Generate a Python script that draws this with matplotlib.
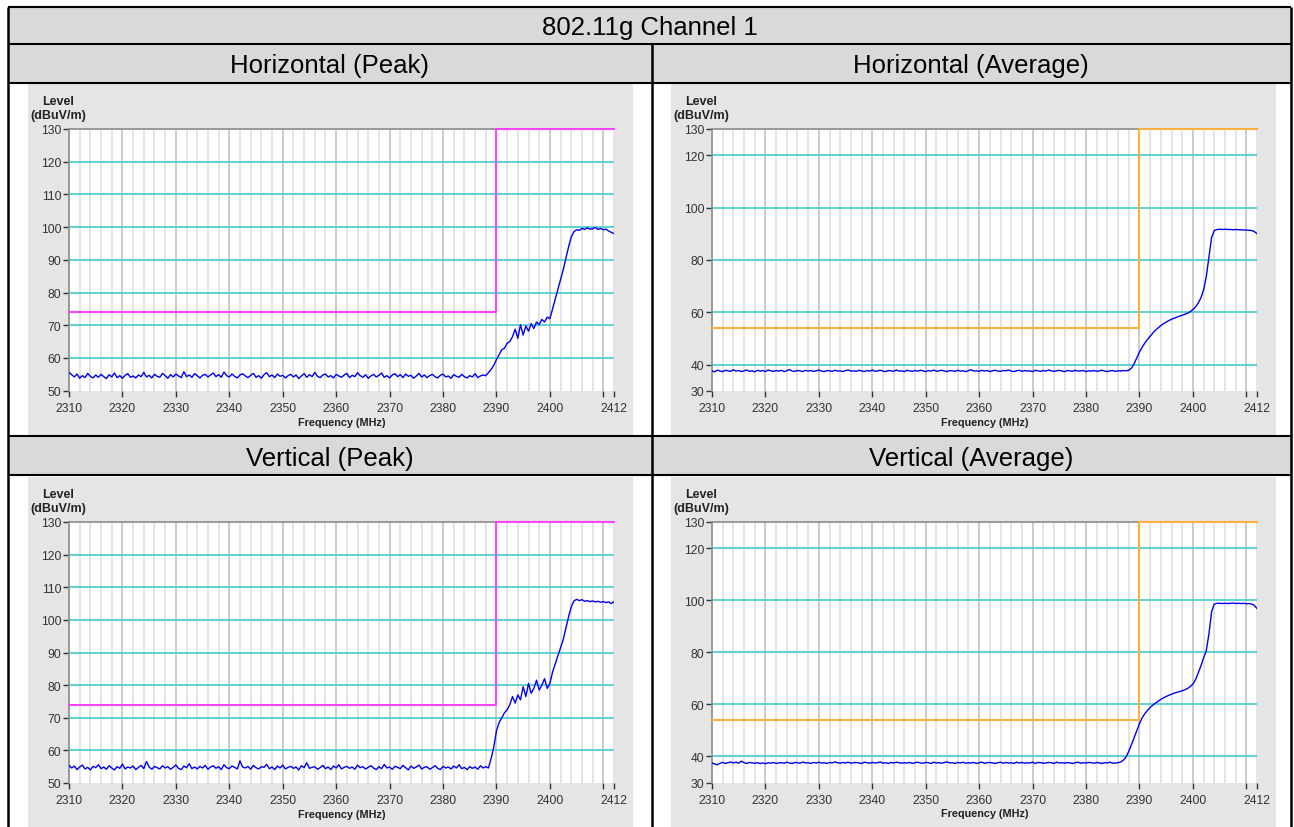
import matplotlib
matplotlib.use("Agg")
import matplotlib.pyplot as plt
import numpy as np
from matplotlib.patches import Rectangle

plt.rcParams['font.family'] = ['Liberation Sans', 'DejaVu Sans']

# Texte
table_title = "802.11g Channel 1"
panel_titles = ["Horizontal (Peak)", "Horizontal (Average)",
                "Vertical (Peak)", "Vertical (Average)"]

# Frequenzraster der Messkurven (MHz)
f_start, f_step = 2310.0, 0.5

# Horizontal Peak
hp_floor = [55.6, 54.9, 54.2, 55.1, 53.8, 54.6, 54.0, 55.3, 54.4, 53.9, 54.8, 54.1, 55.0,
            54.3, 53.7, 54.9, 54.2, 55.4, 54.0, 54.6, 53.8, 54.7, 55.2, 54.1, 54.5, 53.9,
            54.8, 54.3, 55.6, 54.2, 54.7, 53.9, 55.0, 54.4, 54.1, 55.3, 54.6, 53.8, 54.9,
            54.2, 55.1, 54.5, 54.0, 55.8, 54.3, 54.8, 54.1, 55.2, 54.6, 53.9, 54.7, 55.0,
            54.2, 54.8, 55.4, 54.3, 54.9, 54.1, 55.7, 54.6, 54.2, 55.1, 54.4, 53.9, 54.8,
            55.2, 54.5, 54.0, 54.7, 55.3, 54.1, 54.6, 53.8, 54.9, 55.5, 54.3, 54.8, 54.0,
            55.1, 54.4, 54.7, 53.9, 54.6, 55.0, 54.2, 54.8, 53.7, 54.5, 55.2, 54.1, 54.9,
            54.3, 55.6, 54.4, 54.0, 54.8, 55.1, 54.2, 54.6, 53.9, 55.0, 54.5, 54.1, 54.8,
            55.3, 54.0, 54.7, 54.3, 55.5, 54.6, 54.1, 54.9, 53.8, 54.5, 55.0, 54.2, 54.7,
            55.4, 54.1, 54.6, 53.9, 54.8, 55.2, 54.3, 54.9, 54.0, 55.1, 54.4, 54.7, 53.8,
            54.5, 55.3, 54.2, 54.8, 54.0, 54.6, 55.0, 54.3, 53.9, 54.7, 55.1, 54.2, 54.5,
            53.8, 54.9, 54.4, 54.1, 55.0, 54.3, 53.9, 54.6, 54.2, 55.2, 54.0, 54.5, 54.8]
hp_rise = [54.6, 55.5, 56.5, 57.8, 59.5, 61.0, 62.5, 63.0, 64.5, 65.0,
           66.5, 68.8, 66.0, 70.2, 67.0, 69.8, 68.2, 70.5, 69.0, 71.0,
           70.2, 71.8, 71.0, 72.5, 72.0, 75.0, 78.0, 81.0, 84.0, 87.0,
           90.5, 94.0, 97.0, 98.6, 99.2, 99.0, 99.6, 99.3, 99.8, 99.4,
           99.5, 99.9, 99.3, 99.6, 99.2, 99.4, 98.8, 98.4, 98.0]

# Vertical Peak
vp_floor = [55.4, 54.6, 55.2, 54.1, 54.9, 55.5, 54.3, 54.8, 54.0, 55.1, 54.7, 55.6, 54.4,
            54.9, 54.2, 55.3, 54.6, 54.0, 55.0, 54.5, 55.8, 54.3, 54.9, 54.6, 55.2, 54.1,
            54.8, 55.4, 54.4, 56.6, 54.9, 54.2, 55.1, 54.7, 54.3, 55.3, 54.6, 55.0, 54.2,
            54.8, 55.5, 54.5, 54.1, 55.2, 54.7, 55.9, 54.4, 54.9, 54.3, 55.1, 54.6, 55.4,
            54.2, 54.9, 55.3, 54.5, 55.0, 54.1, 55.6, 54.7, 54.4, 55.2, 54.8, 54.3, 56.8,
            54.9, 54.6, 55.1, 54.2, 55.4, 54.7, 54.3, 55.0, 54.8, 55.7, 54.4, 54.9, 54.1,
            55.2, 54.6, 55.5, 54.3, 54.8, 55.1, 54.5, 54.9, 54.0, 55.3, 54.7, 56.2, 54.5,
            54.8, 55.0, 54.2, 54.7, 55.4, 54.4, 54.9, 54.1, 55.2, 54.6, 55.6, 54.3, 54.8,
            55.1, 54.5, 54.9, 54.2, 55.5, 54.7, 55.0, 54.3, 54.8, 55.3, 54.6, 54.1, 55.0,
            54.4, 55.7, 54.6, 54.9, 54.2, 55.1, 54.8, 54.4, 55.4, 54.7, 54.0, 55.2, 54.5,
            54.9, 55.5, 54.3, 54.8, 55.0, 54.2, 54.7, 55.3, 54.5, 54.1, 55.1, 54.6, 54.9,
            54.3, 55.2, 54.6, 55.6, 54.4, 54.8, 54.1, 55.0, 54.5, 54.9, 54.2, 55.3, 54.6]
vp_rise = [55.0, 54.6, 57.5, 61.0, 66.0, 68.5, 70.0, 71.5, 72.5, 74.0,
           76.5, 74.5, 77.0, 75.5, 79.5, 76.5, 80.5, 77.5, 79.0, 81.5,
           78.5, 80.0, 82.0, 79.0, 80.5, 84.0, 86.5, 89.0, 91.5, 94.0,
           97.5, 101.0, 104.0, 105.8, 106.3, 105.9, 106.2, 105.7, 105.9, 105.6,
           105.8, 105.5, 105.7, 105.4, 105.6, 105.3, 105.5, 105.0, 105.6]

# Horizontal Average
ha_floor = [37.6, 37.2, 37.9, 37.5, 37.3, 37.8, 37.6, 37.4, 38.0, 37.5, 37.7, 37.3, 37.6,
            37.9, 37.4, 37.6, 37.2, 37.8, 37.5, 37.7, 37.3, 37.9, 37.6, 37.4, 37.7, 37.5,
            37.8, 37.3, 37.6, 38.1, 37.5, 37.4, 37.7, 37.6, 37.3, 37.8, 37.5, 37.7, 37.4,
            37.6, 37.9, 37.5, 37.3, 37.7, 37.6, 37.4, 37.8, 37.5, 37.6, 37.3, 37.7, 37.9,
            37.5, 37.6, 37.4, 37.8, 37.6, 37.3, 37.7, 37.5, 37.9, 37.4, 37.6, 37.8, 37.5,
            37.3, 37.7, 37.6, 37.4, 37.9, 37.5, 37.6, 37.3, 37.8, 37.6, 37.4, 37.7, 37.5,
            37.8, 37.6, 37.3, 37.7, 37.5, 37.9, 37.4, 37.6, 37.8, 37.5, 37.3, 37.7, 37.6,
            37.4, 37.8, 37.5, 37.6, 37.3, 37.7, 38.0, 37.5, 37.6, 37.4, 37.8, 37.5, 37.7,
            37.3, 37.6, 37.8, 37.5, 37.4, 37.7, 37.6, 37.9, 37.5, 37.3, 37.6, 37.8, 37.4,
            37.7, 37.5, 37.6, 37.3, 37.8, 37.6, 37.4, 37.7, 37.5, 37.9, 37.6, 37.4, 37.6,
            37.8, 37.5, 37.3, 37.7, 37.6, 37.4, 37.8, 37.5, 37.6, 37.7, 37.3, 37.6, 37.5,
            37.7, 37.4, 37.6, 37.8, 37.5, 37.3, 37.6, 37.7, 37.4, 37.6, 37.5, 37.7, 37.6]
ha_rise = [37.8, 38.6, 40.3, 42.5, 44.8, 46.6, 48.2, 49.6, 50.8, 52.0,
           53.1, 54.0, 54.9, 55.6, 56.2, 56.8, 57.3, 57.7, 58.1, 58.5,
           58.8, 59.2, 59.6, 60.2, 61.0, 62.0, 63.5, 65.5, 68.5, 73.5,
           81.0, 88.5, 91.2, 91.6, 91.7, 91.6, 91.7, 91.6, 91.6, 91.5,
           91.6, 91.5, 91.5, 91.4, 91.4, 91.3, 91.2, 90.8, 90.0]

# Vertical Average
va_floor = [37.5, 37.1, 36.8, 37.4, 37.7, 37.3, 37.6, 37.9, 37.5, 37.8, 37.4, 38.2, 37.6,
            37.3, 37.7, 37.5, 37.4, 37.6, 37.3, 37.5, 37.2, 37.6, 37.4, 37.7, 37.3, 37.5,
            37.6, 37.4, 37.8, 37.5, 37.3, 37.7, 37.6, 37.4, 37.9, 37.5, 37.6, 37.3, 37.7,
            37.5, 37.8, 37.4, 37.6, 37.3, 37.7, 37.5, 37.9, 37.6, 37.4, 37.7, 37.5, 37.8,
            37.4, 37.6, 37.7, 37.5, 37.3, 37.8, 37.6, 37.4, 37.7, 37.5, 37.6, 37.9, 37.4,
            37.6, 37.3, 37.7, 37.5, 37.8, 37.6, 37.4, 37.6, 37.5, 37.7, 37.3, 37.6, 37.8,
            37.5, 37.4, 37.7, 37.6, 37.3, 37.8, 37.5, 37.6, 37.4, 37.7, 37.9, 37.5, 37.6,
            37.3, 37.7, 37.5, 37.8, 37.4, 37.6, 37.5, 37.7, 37.3, 37.6, 37.8, 37.4, 37.6,
            37.7, 37.5, 37.3, 37.6, 37.8, 37.4, 37.7, 37.5, 37.6, 37.3, 37.8, 37.5, 37.7,
            37.4, 37.6, 37.5, 37.8, 37.3, 37.7, 37.6, 37.4, 37.5, 37.7, 37.6, 37.3, 37.8,
            37.5, 37.6, 37.4, 37.7, 37.5, 37.3, 37.6, 37.8, 37.4, 37.6, 37.5, 37.7, 37.6,
            37.4, 37.7, 37.5, 37.3, 37.6, 37.5, 37.8, 37.4, 37.5]
va_rise = [37.6, 37.9, 38.6, 39.8, 42.0, 44.5, 47.2, 50.0, 52.6, 54.8,
           56.4, 57.7, 58.8, 59.7, 60.5, 61.2, 61.9, 62.5, 63.0, 63.5,
           63.9, 64.3, 64.6, 64.9, 65.2, 65.6, 66.1, 66.8, 67.8, 69.5,
           72.0, 74.8, 77.8, 80.5, 87.0, 95.5, 98.5, 98.8,
           98.8, 98.7, 98.8, 98.7, 98.8, 98.9, 98.7, 98.8, 98.7, 98.8, 98.6, 98.7,
           98.5, 98.0, 96.8]

# Achsen und Grenzwerte
x_ticks = [2310, 2320, 2330, 2340, 2350, 2360, 2370, 2380, 2390, 2400, 2410, 2412]
x_tick_labels = ["2310", "2320", "2330", "2340", "2350", "2360", "2370", "2380",
                 "2390", "2400", "", "2412"]
peak_yticks = [50, 60, 70, 80, 90, 100, 110, 120, 130]
avg_yticks = [30, 40, 60, 80, 100, 120, 130]
limit_freq = [2310, 2390, 2390, 2412]
peak_limit = [74, 74, 130, 130]
avg_limit = [54, 54, 130, 130]

W, H = 1294, 828
fig = plt.figure(figsize=(W / 100, H / 100), dpi=100)

# Tabelle im Hintergrund (Pixelkoordinaten)
bg = fig.add_axes([0, 0, 1, 1])
bg.set_xlim(0, W)
bg.set_ylim(H, 0)
bg.axis("off")

head_gray = "#d9d9d9"
panel_gray = "#e5e5e5"
for y0, y1 in [(8, 45), (45, 84), (437, 476)]:
    bg.add_patch(Rectangle((8, y0), 1283, y1 - y0, color=head_gray, lw=0))
for x0, x1 in [(28, 633), (671, 1276)]:
    for y0, y1 in [(85, 436), (478, 828)]:
        bg.add_patch(Rectangle((x0, y0), x1 - x0, y1 - y0, color=panel_gray, lw=0))

for y in [8, 45, 84, 437, 476]:
    bg.plot([8, 1291], [y, y], color="black", lw=1.5, solid_capstyle="butt")
for x, y0 in [(8, 8), (1291, 8), (651.5, 45)]:
    bg.plot([x, x], [y0, H], color="black", lw=1.8, solid_capstyle="butt")

bg.text(650, 28, table_title, ha="center", va="center", fontsize=18.5)
title_pos = [(330, 66), (971, 66), (330, 459), (971, 459)]
for (tx, ty), t in zip(title_pos, panel_titles):
    bg.text(tx, ty, t, ha="center", va="center", fontsize=18.5)


def px_axes(x0, y0, x1, y1):
    return fig.add_axes([x0 / W, 1 - y1 / H, (x1 - x0) / W, (y1 - y0) / H])


def draw_panel(ax, trace, yticks, limit, limit_color):
    ax.set_facecolor("white")
    ax.set_xlim(2310, 2412)
    ax.set_ylim(yticks[0], yticks[-1])
    for f in range(2312, 2413, 2):
        if f % 10 == 0:
            ax.axvline(f, color="#c2c2c2", lw=1.2, zorder=1)
        else:
            ax.axvline(f, color="#e4e4e4", lw=1.4, zorder=1)
    for v in yticks[1:-1]:
        ax.axhline(v, color="#52d0d0", lw=1.3, zorder=2)
    ax.plot(limit_freq, limit, color=limit_color, lw=1.5, zorder=3, clip_on=False)
    freq = f_start + f_step * np.arange(len(trace))
    ax.plot(freq, trace, color="#0000f0", lw=1.0, zorder=4)

    for s in ["right", "bottom"]:
        ax.spines[s].set_visible(False)
    for s in ["top", "left"]:
        ax.spines[s].set_color("#8a8a8a")
        ax.spines[s].set_linewidth(1.2)

    ax.set_xticks(x_ticks)
    ax.set_xticklabels(x_tick_labels)
    ax.set_yticks(yticks)
    ax.tick_params(axis="both", length=4, width=1, color="#333333",
                   labelcolor="#333333", labelsize=8.7)
    ax.tick_params(axis="x", pad=4)
    ax.tick_params(axis="y", pad=1.5)

    ax.annotate("Level", xy=(0, 1), xycoords="axes fraction", xytext=(-11, 28),
                textcoords="offset pixels", ha="center", va="center",
                fontsize=9, fontweight="bold", color="#222222")
    ax.annotate("(dBuV/m)", xy=(0, 1), xycoords="axes fraction", xytext=(-11, 14),
                textcoords="offset pixels", ha="center", va="center",
                fontsize=9, fontweight="bold", color="#222222")
    ax.annotate("Frequency (MHz)", xy=(0.5, 0), xycoords="axes fraction",
                xytext=(0, -31), textcoords="offset pixels", ha="center",
                va="center", fontsize=7.8, fontweight="bold", color="#222222")


panels = [
    ((69, 130, 614, 391.7), hp_floor + hp_rise, peak_yticks, peak_limit, "#ff44ff"),
    ((712, 130, 1257, 391.7), ha_floor + ha_rise, avg_yticks, avg_limit, "#ffb040"),
    ((69, 523, 614, 784), vp_floor + vp_rise, peak_yticks, peak_limit, "#ff44ff"),
    ((712, 523, 1257, 783.5), va_floor + va_rise, avg_yticks, avg_limit, "#ffb040"),
]
for box, trace, yt, lim, col in panels:
    ax = px_axes(*box)
    draw_panel(ax, trace, yt, lim, col)

fig.savefig("out.png", dpi=100)
